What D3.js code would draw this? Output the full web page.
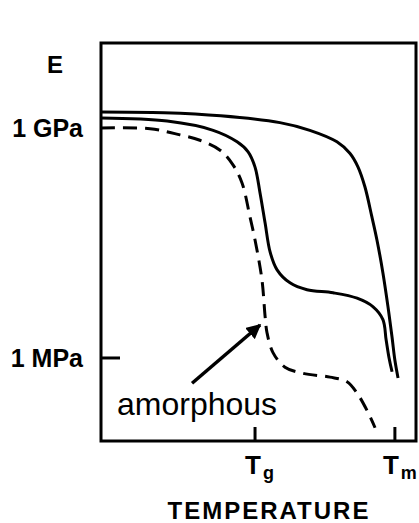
<!DOCTYPE html>
<html>
<head>
<meta charset="utf-8">
<script src="https://cdn.jsdelivr.net/npm/d3@7"></script>
<style>
  html, body { margin: 0; padding: 0; background: #fff; }
  svg { display: block; }
</style>
</head>
<body>
<div id="chart"></div>
<script>
// temperature in arbitrary units, modulus as log10(E / Pa)
const crystalline = [
  [0, 9.21], [20.0, 9.20], [38.0, 9.16], [56.8, 9.07], [66.3, 8.97],
  [74.9, 8.82], [79.0, 8.67], [81.6, 8.49], [83.8, 8.23], [86.0, 7.84],
  [87.6, 7.54], [89.5, 7.11], [91.1, 6.67], [92.4, 6.27], [93.3, 5.97],
  [94.3, 5.74]
];
const semicrystalline = [
  [0, 9.13], [21.0, 9.09], [35.6, 8.97], [43.2, 8.82], [46.7, 8.69],
  [48.9, 8.49], [50.5, 8.15], [52.1, 7.76], [53.7, 7.38], [55.9, 7.15],
  [60.0, 6.98], [65.4, 6.89], [73.7, 6.85], [81.3, 6.78], [86.3, 6.67],
  [89.5, 6.50], [90.5, 6.24], [91.4, 6.01], [92.4, 5.82]
];
const amorphous = [
  [0, 9.0], [15.6, 8.99], [25.1, 8.91], [31.4, 8.84], [37.8, 8.71],
  [41.9, 8.52], [44.8, 8.28], [47.3, 7.84], [48.9, 7.54], [51.1, 7.02],
  [52.1, 6.54], [52.7, 6.33], [54.6, 6.07], [58.4, 5.88], [64.1, 5.80],
  [72.7, 5.75], [78.1, 5.69], [81.3, 5.54], [84.4, 5.32], [87.0, 5.09]
];
const yTicks = [9, 6];
const yTickLabels = ["1 GPa", "1 MPa"];
const xTicks = [48.9, 93.3];
const xTickLabels = [["T", "g"], ["T", "m"]];
const arrowFrom = [28.9, 5.67];
const arrowTo = [50.5, 6.43];

const width = 419, height = 523;
const frame = { left: 101, right: 416, top: 43, bottom: 441 };
const font = "Arial, 'Liberation Sans', Helvetica, sans-serif";

const svg = d3.select("#chart").append("svg")
  .attr("width", width)
  .attr("height", height);

const x = d3.scaleLinear().domain([0, 100]).range([frame.left, frame.right]);
const y = d3.scaleLinear().domain([4.917, 10.109]).range([frame.bottom, frame.top]);

const defs = svg.append("defs");
defs.append("marker")
  .attr("id", "head")
  .attr("viewBox", "0 0 10 10")
  .attr("refX", 9)
  .attr("refY", 5)
  .attr("markerWidth", 4.2)
  .attr("markerHeight", 4.2)
  .attr("markerUnits", "strokeWidth")
  .attr("orient", "auto")
  .append("path")
  .attr("d", "M0,0 L10,5 L0,10 z")
  .attr("fill", "#000");

// frame
svg.append("rect")
  .attr("x", frame.left)
  .attr("y", frame.top)
  .attr("width", frame.right - frame.left)
  .attr("height", frame.bottom - frame.top)
  .attr("fill", "none")
  .attr("stroke", "#000")
  .attr("stroke-width", 3);

// y ticks (the 1 GPa one sits under the curves)
svg.selectAll("line.ytick")
  .data(yTicks.slice(1))
  .enter().append("line")
  .attr("class", "ytick")
  .attr("x1", frame.left).attr("x2", frame.left + 19)
  .attr("y1", d => y(d)).attr("y2", d => y(d))
  .attr("stroke", "#000").attr("stroke-width", 3);

svg.selectAll("text.ylab")
  .data(yTicks)
  .enter().append("text")
  .attr("class", "ylab")
  .attr("x", 83)
  .attr("y", d => y(d) + 9)
  .attr("text-anchor", "end")
  .attr("font-family", font)
  .attr("font-weight", "bold")
  .attr("font-size", "25px")
  .text((d, i) => yTickLabels[i]);

svg.append("text")
  .attr("x", 55).attr("y", 73)
  .attr("text-anchor", "middle")
  .attr("font-family", font)
  .attr("font-weight", "bold")
  .attr("font-size", "24px")
  .text("E");

// x ticks
svg.selectAll("line.xtick")
  .data(xTicks)
  .enter().append("line")
  .attr("class", "xtick")
  .attr("x1", d => x(d)).attr("x2", d => x(d))
  .attr("y1", frame.bottom).attr("y2", frame.bottom - 14)
  .attr("stroke", "#000").attr("stroke-width", 3);

const xl = svg.selectAll("text.xlab")
  .data(xTicks)
  .enter().append("text")
  .attr("class", "xlab")
  .attr("x", (d, i) => x(d) - (i === 0 ? 10 : 12))
  .attr("y", 474)
  .attr("font-family", font)
  .attr("font-weight", "bold")
  .attr("font-size", "26px");
xl.append("tspan").text((d, i) => xTickLabels[i][0]);
xl.append("tspan")
  .attr("dx", 2)
  .attr("dy", 5)
  .attr("font-size", "18px")
  .text((d, i) => xTickLabels[i][1]);

svg.append("text")
  .attr("x", 269).attr("y", 519)
  .attr("text-anchor", "middle")
  .attr("font-family", font)
  .attr("font-weight", "bold")
  .attr("font-size", "24px")
  .attr("letter-spacing", "2px")
  .text("TEMPERATURE");

// curves
const line = d3.line()
  .x(d => x(d[0]))
  .y(d => y(d[1]))
  .curve(d3.curveCatmullRom.alpha(0.5));

[crystalline, semicrystalline].forEach(s => {
  svg.append("path")
    .attr("d", line(s))
    .attr("fill", "none")
    .attr("stroke", "#000")
    .attr("stroke-width", 3);
});

svg.append("path")
  .attr("d", line(amorphous))
  .attr("fill", "none")
  .attr("stroke", "#000")
  .attr("stroke-width", 3)
  .attr("stroke-dasharray", "14,8");

// annotation
svg.append("line")
  .attr("x1", x(arrowFrom[0])).attr("y1", y(arrowFrom[1]))
  .attr("x2", x(arrowTo[0])).attr("y2", y(arrowTo[1]))
  .attr("stroke", "#000")
  .attr("stroke-width", 3.5)
  .attr("marker-end", "url(#head)");

svg.append("text")
  .attr("x", 117).attr("y", 415)
  .attr("font-family", font)
  .attr("font-size", "32px")
  .text("amorphous");
</script>
</body>
</html>
